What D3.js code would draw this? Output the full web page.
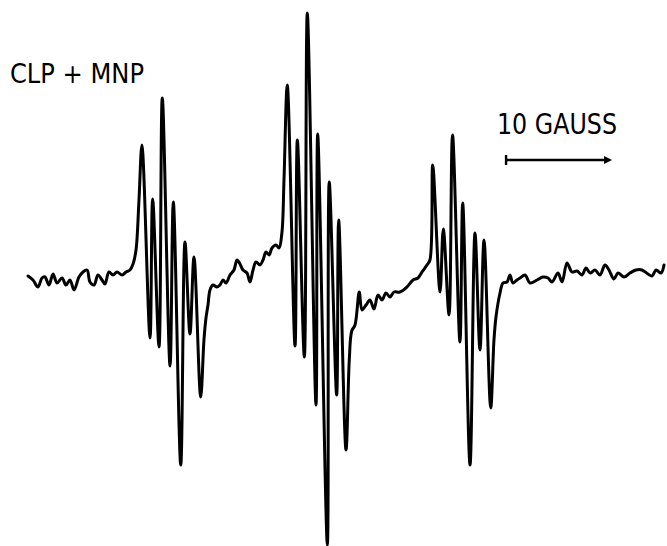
<!DOCTYPE html>
<html>
<head>
<meta charset="utf-8">
<script src="https://cdn.jsdelivr.net/npm/d3@7"></script>
<style>
  html, body { margin: 0; padding: 0; background: #fff; }
</style>
</head>
<body>
<div id="chartarea"></div>
<script>
// magnetic field (gauss, relative) and first-derivative signal (arbitrary units)
const field = [
  0, 0.47, 0.94, 1.32, 1.60, 1.98, 2.36, 2.74, 3.21, 3.58, 3.96, 4.34, 4.81, 5.19, 5.57,
  5.85, 6.23, 6.60, 6.98, 7.26, 7.64, 8.02, 8.40, 8.87, 9.25, 9.62, 9.91, 10.19, 10.47,
  10.75, 11.51, 11.76, 12.36, 12.67, 13.40, 13.71, 14.41, 14.81, 15.28, 15.66, 16.29,
  16.60, 16.79, 16.98, 17.17, 17.45, 17.83, 18.11, 18.40, 18.68, 19.06, 19.43, 19.72,
  20.00, 20.28, 20.66, 20.94, 21.23, 21.51, 21.89, 22.17, 22.45, 22.74, 23.02, 23.40,
  23.68, 23.96, 24.15, 24.46, 25.19, 25.41, 26.07, 26.35, 27.17, 27.33, 28.24, 28.42,
  29.12, 29.31, 30.00, 30.31, 30.54, 30.85, 31.25, 31.51, 31.89, 32.26, 32.64, 33.02,
  33.40, 33.77, 34.15, 34.53, 35.09, 35.75, 36.32, 36.79, 37.17, 37.64, 37.92, 38.18,
  38.87, 39.18, 39.72, 40.05, 40.75, 41.01, 41.70, 42.17, 42.64, 43.02, 43.65, 43.96,
  44.15, 44.53, 44.81, 45.19, 45.47, 45.75, 46.13, 46.42, 46.89, 47.36, 48.02, 48.58,
  49.06, 49.43, 50.00, 50.38, 50.85, 51.32, 51.79, 52.26, 52.64, 53.02, 53.49, 53.96,
  54.43, 54.81, 55.28, 55.66, 56.23, 56.79, 57.36, 57.92, 58.49, 58.87, 59.25, 59.72, 60.00
];
const signal = [
  -1, -5, -12, -3, -2, -10, 1, -8, -3, -10, -5, -15, -2, 3, 5,
  -7, -10, 0, -5, -9, 3, 0, 3, 0, 3, 5, 11, 25, 75,
  130, -63, 76, -72, 177, -91, 73, -190, 33, -59, 18, -122,
  -65, -43, -30, -15, -10, -12, -10, -5, -8, 0, 5, 15,
  11, 5, 2, -7, 5, 13, 10, 15, 23, 20, 27, 30,
  27, 43, 95, 190, -71, 135, -82, 262, -130, 141, -270, 93,
  -120, 55, -175, -85, -56, -50, -17, -35, -30, -25, -34, -20,
  -25, -18, -22, -17, -17, -12, -5, -3, 3, 10, 15, 110,
  -17, 46, -40, 140, -67, 72, -190, 42, -75, 35, -133, -65,
  -42, -18, -8, -7, 0, -8, -5, -3, 0, -8, -5, -2,
  -3, -7, 2, -7, 12, 3, 4, 0, 7, 2, 5, 0,
  10, 5, -4, 2, -2, 2, 5, 5, 1, -1, 5, 2, 10
];

const sampleLabel = 'CLP + MNP';
const scaleLabel = '10 GAUSS';
const scaleBarStart = 45.1;  // gauss
const scaleBarLength = 10;   // gauss

const width = 667;
const height = 546;

const svg = d3.select('#chartarea')
  .append('svg')
    .attr('width', width)
    .attr('height', height);

const x = d3.scaleLinear()
  .domain([0, 60])
  .range([28, 664]);

const y = d3.scaleLinear()
  .domain([-270, 270])
  .range([545, 5]);

const points = field.map((f, i) => [f, signal[i]]);

const line = d3.line()
  .x(d => x(d[0]))
  .y(d => y(d[1]))
  .curve(d3.curveCatmullRom.alpha(0.5));

svg.append('path')
  .datum(points)
  .attr('d', line)
  .attr('fill', 'none')
  .attr('stroke', '#000')
  .attr('stroke-width', 3)
  .attr('stroke-linejoin', 'round')
  .attr('stroke-linecap', 'round');

// sample label
svg.append('text')
  .attr('x', 10)
  .attr('y', 83)
  .attr('font-family', 'DejaVu Sans')
  .attr('font-size', 26)
  .attr('textLength', 134)
  .attr('lengthAdjust', 'spacingAndGlyphs')
  .attr('fill', '#000')
  .text(sampleLabel);

// scale bar
const barY = 160;
const x0 = x(scaleBarStart);
const x1 = x(scaleBarStart + scaleBarLength);

svg.append('text')
  .attr('x', 497)
  .attr('y', 134)
  .attr('font-family', 'DejaVu Sans')
  .attr('font-size', 29)
  .attr('textLength', 120)
  .attr('lengthAdjust', 'spacingAndGlyphs')
  .attr('fill', '#000')
  .text(scaleLabel);

svg.append('line')
  .attr('x1', x0).attr('x2', x1 - 6)
  .attr('y1', barY).attr('y2', barY)
  .attr('stroke', '#000')
  .attr('stroke-width', 2.4);

svg.append('line')
  .attr('x1', x0).attr('x2', x0)
  .attr('y1', barY - 5).attr('y2', barY + 5)
  .attr('stroke', '#000')
  .attr('stroke-width', 2.4);

svg.append('path')
  .attr('d', `M${x1},${barY} L${x1 - 8},${barY - 4} L${x1 - 8},${barY + 4} Z`)
  .attr('fill', '#000');
</script>
</body>
</html>
